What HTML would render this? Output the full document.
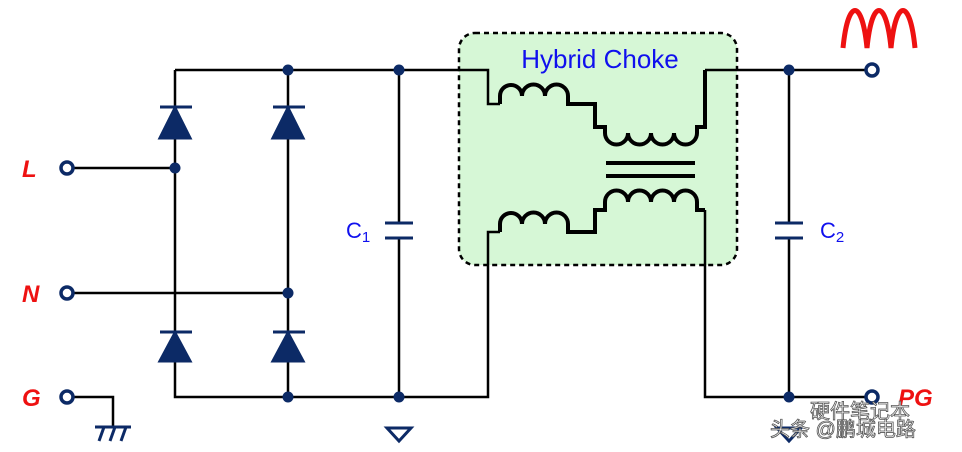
<!DOCTYPE html>
<html><head><meta charset="utf-8"><style>body{margin:0;background:#fff}svg{display:block}</style></head><body>
<svg width="962" height="452" viewBox="0 0 962 452" xmlns="http://www.w3.org/2000/svg">
<rect x="459" y="33" width="278" height="232" rx="16" fill="#d6f7d6" stroke="#000" stroke-width="2.5" stroke-dasharray="5,4"/>
<text x="600" y="68" font-family="Liberation Sans, sans-serif" font-size="26" fill="#1010ee" text-anchor="middle">Hybrid Choke</text>
<g fill="none" stroke="#000" stroke-width="2.5">
<path d="M175 70H488V104H500M175 70V397H488V232H500M67 168H175M67 293H288M288 70V397M399 70V223M399 238V397M67 397H113V427"/>
<path d="M705 70H872M789 70V223M789 238V397M705 210V397H872"/>
</g>
<g fill="none" stroke="#000" stroke-width="4">
<path d="M500 104V96a11 11 0 0 1 22 0a11 11 0 0 1 23 0a11 11 0 0 1 23 0V104H578H595V127H605V133a11 11 0 0 0 23 0a11 11 0 0 0 23 0a11 11 0 0 0 23 0a11 11 0 0 0 23 0V127H705V70"/>
<path d="M500 232V224a11 11 0 0 1 22 0a11 11 0 0 1 23 0a11 11 0 0 1 23 0V232H578H595V210H605V202a11 11 0 0 1 23 0a11 11 0 0 1 23 0a11 11 0 0 1 23 0a11 11 0 0 1 23 0V210H705"/>
<path d="M606 163H695M606 176H695"/>
</g>
<g stroke="#0c2a66" stroke-width="3" fill="#0c2a66">
<path d="M160 107H192M273 107H305M160 332H192M273 332H305" fill="none"/>
<path d="M175 108L160 138H190Z M288 108L273 138H303Z M175 333L160 361H190Z M288 333L273 361H303Z"/>
<path d="M385 223H413M385 238H413M775 223H803M775 238H803" fill="none" stroke-width="3"/>
<path d="M387 428H411L399 441Z M777 428H801L789 441Z" fill="none"/>
<path d="M95 427H131M99 441L104 427M110 441L115 427M121 441L126 427" fill="none"/>
</g>
<g fill="#0c2a66">
<circle cx="175" cy="168" r="5.5"/><circle cx="288" cy="70" r="5.5"/><circle cx="288" cy="293" r="5.5"/><circle cx="288" cy="397" r="5.5"/>
<circle cx="399" cy="70" r="5.5"/><circle cx="399" cy="397" r="5.5"/><circle cx="789" cy="70" r="5.5"/><circle cx="789" cy="397" r="5.5"/>
</g>
<g fill="#fff" stroke="#0c2a66" stroke-width="3.5">
<circle cx="67" cy="168" r="6"/><circle cx="67" cy="293" r="6"/><circle cx="67" cy="397" r="6"/><circle cx="872" cy="70" r="6"/><circle cx="872" cy="397" r="6"/>
</g>
<g font-family="Liberation Sans, sans-serif" font-weight="bold" font-style="italic" font-size="24" fill="#ee1111">
<text x="22" y="177">L</text><text x="22" y="302">N</text><text x="22" y="406">G</text><text x="898" y="406">PG</text>
</g>
<g font-family="Liberation Sans, sans-serif" font-size="22" fill="#1010ee">
<text x="346" y="238">C<tspan font-size="15" dy="4">1</tspan></text>
<text x="820" y="238">C<tspan font-size="15" dy="4">2</tspan></text>
</g>
<path d="M843 48C848 -2 862 -2 867 48C872 -2 886 -2 891 48C896 -2 910 -2 915 48" fill="none" stroke="#ee1111" stroke-width="5"/>
<g font-family="Liberation Sans, Noto Sans CJK SC, sans-serif" font-size="20" fill="#fff" stroke="#555" stroke-width="0.8">
<text x="810" y="418">硬件笔记本</text><text x="770" y="436">头条 @鹏城电路</text>
</g>
</svg>
</body></html>
